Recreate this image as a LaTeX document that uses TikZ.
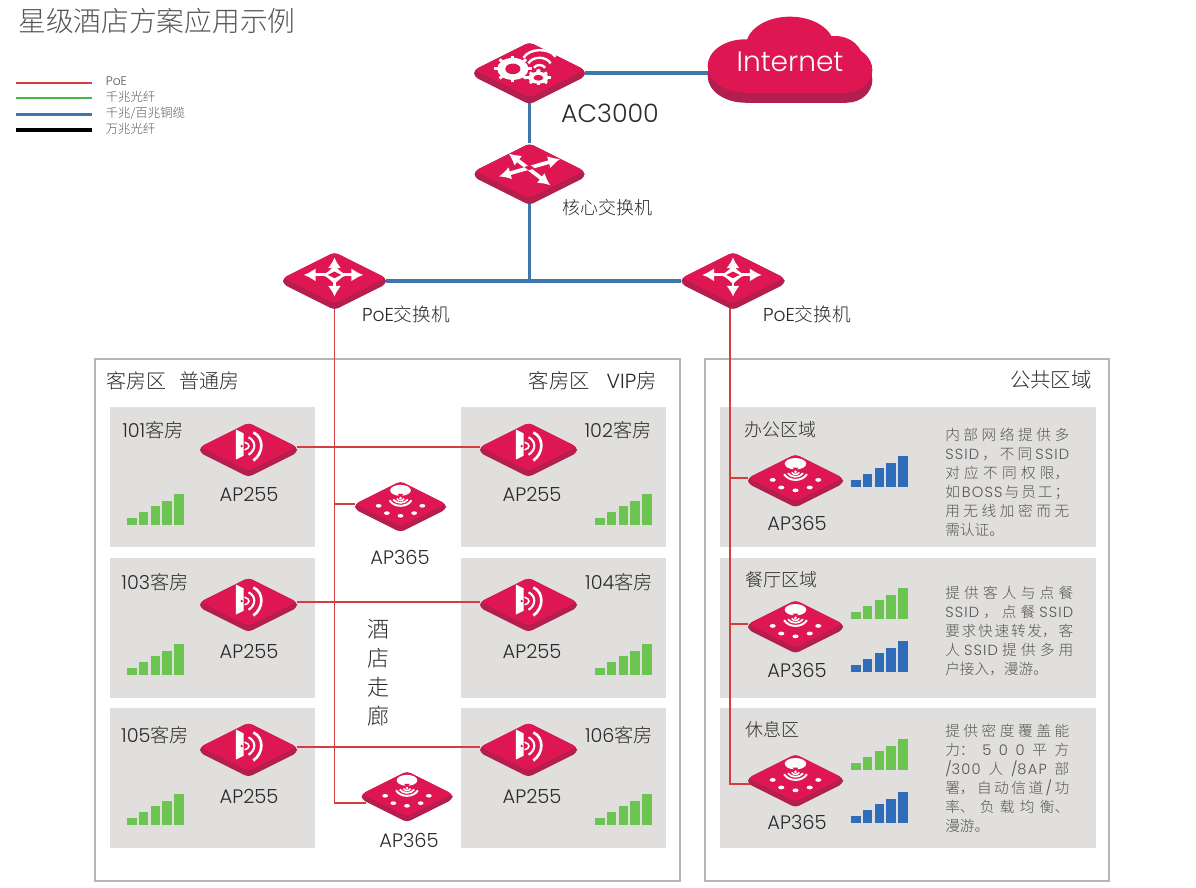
\documentclass[tikz,border=0pt]{standalone}
\usepackage{fontspec}
\setmainfont{Poppins}[UprightFont=* Light]
\newfontfamily\cjk{Noto Sans CJK SC}[UprightFont=* Light]
\newfontfamily\widelat{Poppins}[UprightFont=* Light,LetterSpace=8]
\usepackage{tikz}
\usetikzlibrary{arrows.meta}
\usetikzlibrary{backgrounds}
\usetikzlibrary{shapes.geometric}

\XeTeXlinebreaklocale "zh"
\XeTeXlinebreakskip=0pt plus 6pt

\definecolor{devred}{HTML}{DE1652}
\definecolor{devdark}{HTML}{B01F4E}
\definecolor{devmid}{HTML}{C81A4F}
\definecolor{poered}{HTML}{D33F40}
\definecolor{cablegreen}{HTML}{48B54B}
\definecolor{cableblue}{HTML}{3F76AB}
\definecolor{barsgreen}{HTML}{6CC551}
\definecolor{barsblue}{HTML}{2F6CBA}
\definecolor{roomgray}{HTML}{E0DFDD}
\definecolor{framegray}{HTML}{B5B5B5}
\definecolor{inktext}{HTML}{2A2A2A}
\definecolor{softtext}{HTML}{555555}

\newcommand{\zh}[1]{{\cjk #1}}
\newcommand{\wl}[1]{{\widelat #1}}
\newcommand{\devbody}{
	\path[fill=devdark,rounded corners=3pt] (-50,0) -- (0,-25) -- (50,0) -- (50,6) -- (0,31) -- (-50,6) -- cycle;
	\draw[devmid,line width=.5pt] (-49,3) -- (0,28) -- (49,3);
	\node[devface] (-c) {};
}
\newcommand{\sigbars}[3]{
	\foreach \i/\h in {0/7,1/13,2/19,3/24,4/31}
	\fill[#3] ({#1+\i*11.8},#2) rectangle ({#1+\i*11.8+9.6},{#2-\h});
}
\newcommand{\gearwheel}[4]{
	\foreach \a in {0,45,...,315}
	\draw[white,line width=2.2pt] (#1,#2) -- ({#1+#3*cos(\a)},{#2+#4*sin(\a)});
	\fill[white] (#1,#2) ellipse [x radius={#3*.62pt},y radius={#4*.62pt}];
	\fill[devred] (#1,#2) ellipse [x radius={#3*.3pt},y radius={#4*.3pt}];
}
\newcommand{\cloudshape}{
	\fill (790,46) ellipse [x radius=33pt,y radius=22pt];
	\fill (745,66) ellipse [x radius=28pt,y radius=20pt];
	\fill (835,60) ellipse [x radius=21pt,y radius=18pt];
	\fill (847,70) ellipse [x radius=19pt,y radius=17pt];
	\fill (745,60) rectangle (847,93);
}

\tikzset{
	devface/.style={diamond,aspect=2,fill=devred,inner sep=0pt,minimum width=75pt,minimum height=37.5pt,rounded corners=3pt,transform shape},
	lbl/.style={text=inktext,font=\fontsize{14.6}{16}\selectfont,inner sep=0pt},
	roomlbl/.style={text=inktext,font=\fontsize{14.4}{16}\selectfont,inner sep=0pt},
	zonelbl/.style={text=inktext,font=\fontsize{13.5}{16}\cjk,inner sep=0pt},
	notetxt/.style={text=softtext,font=\fontsize{11}{14.25}\selectfont,align=justify,inner sep=0pt,anchor=north west},
	poe/.style={draw=poered,line width=1.2pt},
	cable/.style={draw=cableblue,line width=2.4pt},
	pics/acbox/.style={code={
		\devbody
		\gearwheel{-15}{-1}{17}{12}
		\gearwheel{8}{7}{11}{6.5}
		\draw[white,line width=1.8pt] (-5.5,-11) .. controls (0,-20) and (18,-20) .. (23.5,-12);
		\draw[white,line width=1.8pt] (-1,-6) .. controls (3,-12.7) and (15,-12.7) .. (19,-6);
		\draw[white,line width=1.8pt] (4,-2) .. controls (6,-5.3) and (12,-5.3) .. (14,-2);
		\fill[white] (8,1) circle [radius=1.5pt];
	}},
	pics/coreswitch/.style={code={
		\devbody
		\draw[white,line width=2.8pt,{Latex[length=9pt,width=9.5pt]}-{Latex[length=9pt,width=9.5pt]}] (-28,5) -- (28,-11);
		\draw[white,line width=2.8pt,{Latex[length=9pt,width=9.5pt]}-{Latex[length=9pt,width=9.5pt]}] (-19,-16) -- (19,13);
		\fill[devred] (4.7,-2.35) -- (.9,-5.25) -- (-4.7,-3.65) -- (-.9,-.75) -- cycle;
	}},
	pics/poeswitch/.style={code={
		\devbody
		\draw[white,line width=2.2pt,{Latex[length=9pt,width=10pt]}-{Latex[length=9pt,width=10pt]}] (-30,-3) -- (28,-3);
		\draw[white,line width=2.2pt,{Latex[length=8pt,width=10pt]}-{Latex[length=8pt,width=10pt]}] (0,-20) -- (0,18);
		\fill[white] (-16,-3) .. controls (-8,-4) .. (0,-12) .. controls (8,-4) .. (16,-3) .. controls (8,-2) .. (0,6) .. controls (-8,-2) .. cycle;
		\fill[devred] (-6.5,-3) -- (0,-6.2) -- (6.5,-3) -- (0,.2) -- cycle;
	}},
	pics/apdoor/.style={code={
		\devbody
		\fill[white] (-13,-18) -- (-5,-14) -- (-5,9) -- (-13,13) -- cycle;
		\fill[devred] (-7,-1) circle [radius=1pt];
		\draw[white,line width=1.2pt] (-4,-5) .. controls (2,-3) and (2,1) .. (-4,3);
		\draw[white,line width=1.6pt] (0,-10) .. controls (8,-6) and (8,3) .. (0,8);
		\draw[white,line width=2pt] (5,-15) .. controls (16,-10) and (16,6) .. (5,14);
	}},
	pics/apdome/.style={code={
		\devbody
		\fill[white] (0,-15) ellipse [x radius=8.5pt,y radius=4.5pt];
		\fill[devred] (-3,-11) -- (3,-11) -- (0,-7) -- cycle;
		\fill[white] (0,-6.5) circle [radius=1.2pt];
		\draw[white,line width=1.1pt] (-4,-6) .. controls (-2,-3) and (2,-3) .. (4,-6);
		\draw[white,line width=1.3pt] (-8,-5) .. controls (-4,0) and (4,0) .. (8,-5);
		\draw[white,line width=1.5pt] (-12,-4) .. controls (-7,4) and (7,4) .. (12,-4);
		\foreach \dx/\dy in {-24/2,-15/10,0/13,15/10,24/2}
		\fill[white] (\dx,\dy) ellipse [x radius=2.4pt,y radius=1.5pt];
	}}
}

\begin{document}
\begin{tikzpicture}[x=.75pt,y=-.75pt]
	\useasboundingbox (0,0) rectangle (1196,888);
	
	% Title and legend
	\node[text=softtext,font=\fontsize{20.8}{24}\cjk,anchor=west,inner sep=0pt] (title) at (18,21) {星级酒店方案应用示例};
	\foreach \n/\y/\w/\c/\t in {1/83/1/poered/PoE,2/98.5/1.5/cablegreen/\zh{千兆光纤},3/114.5/2.4/cableblue/\zh{千兆/百兆铜缆},4/130/3.6/black/\zh{万兆光纤}}{
		\coordinate (lgs\n) at (16,\y);
		\coordinate (lge\n) at (92,\y);
		\draw[draw=\c,line width=\w pt] (lgs\n) -- (lge\n);
		\node[text=softtext,font=\fontsize{9.3}{10}\selectfont,anchor=west,inner sep=0pt] (lgt\n) at (105.5,{\y-1.5}) {\t};
	}
	
	% Top of the network
	\pic (ac) [scale=1.11] at (529.5,70) {acbox};
	\pic (core) [scale=1.1] at (529.5,171) {coreswitch};
	\pic (swl) [scale=1.03] at (334.5,278) {poeswitch};
	\pic (swr) [scale=1.03] at (733,278) {poeswitch};
	\begin{scope}[every path/.append style={devdark}]
		\begin{scope}[shift={(0,10)}]\cloudshape\end{scope}
	\end{scope}
	\begin{scope}[every path/.append style={devred}]
		\cloudshape
	\end{scope}
	\node[text=white,font=\fontsize{21}{24}\selectfont,inner sep=0pt] (inet) at (790,62) {Internet};
	\coordinate (inetw) at (712,73);
	\coordinate (trunkj) at (529.5,281);
	\node[lbl,font=\fontsize{19}{20}\selectfont] (aclbl) at (610,113) {AC3000};
	\node[roomlbl,font=\fontsize{13.5}{16}\cjk] (corelbl) at (607,208) {核心交换机};
	\node[roomlbl,font=\fontsize{14}{16}\selectfont] (swllbl) at (406,314) {PoE\zh{交换机}};
	\node[roomlbl,font=\fontsize{14}{16}\selectfont] (swrlbl) at (807,314) {PoE\zh{交换机}};
	
	% Area headings
	\node[roomlbl,font=\fontsize{15}{18}\cjk,anchor=west] (hda) at (106,381) {客房区\ \ \ 普通房};
	\node[roomlbl,font=\fontsize{15.3}{18}\selectfont,anchor=east] (hdb) at (657,381) {\zh{客房区}\ \ \ VIP\zh{房}};
	\node[roomlbl,font=\fontsize{15.3}{18}\cjk,anchor=east] (hdc) at (1092,380) {公共区域};
	\foreach \n/\y/\t in {1/629/酒,2/658/店,3/687/走,4/716/廊}
	\node[roomlbl,font=\fontsize{16.5}{18}\cjk] (hall\n) at (378,\y) {\t};
	
	% Guest rooms
	\foreach \n/\px/\py/\lx/\ly/\rx/\ry/\bx/\by in {101/248.5/447/249/494/153/430/127/525,102/528.5/447/532/494/618/430/595/525,103/248.5/602/249/651/155/582/127/675,104/528.5/602/532/651/619/582/595/675,105/248.5/747/249/796/155/735/127/825,106/528.5/747/532/796/619/735/595/825}{
		\pic (ap\n) [scale=.97] at (\px,\py) {apdoor};
		\node[lbl] (aplbl\n) at (\lx,\ly) {AP255};
		\node[roomlbl] (room\n) at (\rx,\ry) {\n\zh{客房}};
		\sigbars{\bx}{\by}{barsgreen}
	}
	
	% Access points of the corridor
	\pic (hallap) [scale=.91] at (400.5,504) {apdome};
	\pic (endap) [scale=.91] at (407,794) {apdome};
	\node[lbl] (halllbl) at (400,557) {AP365};
	\node[lbl] (endlbl) at (409,840) {AP365};
	\coordinate (endapw) at (366,803);
	
	% Public area
	\foreach \n/\py/\ly in {1/478/523,2/624/670,3/778/822}{
		\pic (pub\n) [scale=.95] at (795.5,\py) {apdome};
		\node[lbl] (publbl\n) at (797,\ly) {AP365};
	}
	\coordinate (pubw) at (752,784);
	\coordinate (swrb) at (730,295);
	\sigbars{851}{487}{barsblue}
	\sigbars{851}{619}{barsgreen}
	\sigbars{851}{672}{barsblue}
	\sigbars{851}{770}{barsgreen}
	\sigbars{851}{823}{barsblue}
	\node[zonelbl] (pubname1) at (780,430) {办公区域};
	\node[zonelbl] (pubname2) at (781,580) {餐厅区域};
	\node[zonelbl] (pubname3) at (772,730) {休息区};
	
	% Notes
	\node[notetxt,text width=93pt] (note1) at (945,428) {\zh{内部网络提供多}\linebreak
		\wl{SSID}\hfill\zh{，}\hfill\zh{不}\hfill\zh{同}\hfill\wl{SSID}\linebreak
		\zh{对应不同权限，}\linebreak
		\zh{如}\hfill\wl{BOSS}\hfill\zh{与}\hfill\zh{员}\hfill\zh{工}\hfill\zh{；}\linebreak
		\zh{用无线加密而无}\linebreak
		\zh{需认证。}};
	\node[notetxt,text width=96pt] (note2) at (945,586) {\zh{提供客人与点餐}\linebreak
		\wl{SSID}\hfill\zh{，}\hfill\zh{点}\hfill\zh{餐}\hfill\wl{SSID}\linebreak
		\zh{要求快速转发，客}\linebreak
		\zh{人}\hfill\wl{SSID}\hfill\zh{提}\hfill\zh{供}\hfill\zh{多}\hfill\zh{用}\linebreak
		\zh{户接入，漫游。}};
	\node[notetxt,text width=93pt] (note3) at (945,724) {\zh{提供密度覆盖能}\linebreak
		\zh{力：}\hfill 5\hfill 0\hfill 0\hfill\zh{平}\hfill\zh{方}\linebreak
		\wl{/300}\hfill\zh{人}\hfill\wl{/8AP}\hfill\zh{部}\linebreak
		\zh{署，}\hfill\zh{自}\hfill\zh{动}\hfill\zh{信}\hfill\zh{道}\hfill/\hfill\zh{功}\linebreak
		\zh{率、负载均衡、}\linebreak
		\zh{漫游。}};
	
	\begin{pgfonlayer}{background}
		% Frames and rooms
		\draw[framegray,line width=1.5pt] (95,359) rectangle (680,881);
		\draw[framegray,line width=1.5pt] (705,359) rectangle (1109,881);
		\foreach \y in {407,558,708}{
			\fill[roomgray] (110,\y) rectangle (315,{\y+140});
			\fill[roomgray] (461,\y) rectangle (666,{\y+140});
			\fill[roomgray] (720,\y) rectangle (1096,{\y+140});
		}
		% Connectors
		\draw[cable] (ac-c.east |- inetw) -- (inetw);
		\draw[cable] (ac-c.south) -- (core-c.north);
		\draw[cable] (core-c.south) -- (trunkj);
		\draw[cable] ([yshift=-2.25pt]swl-c.east) -- ([yshift=-2.25pt]swr-c.west);
		\draw[poe] (swl-c.south) |- (endapw);
		\draw[poe] (swl-c.south |- hallap-c.west) -- (hallap-c.west);
		\foreach \a/\b in {101/102,103/104,105/106}
		\draw[poe] (ap\a-c.east) -- (ap\b-c.west);
		\draw[poe] (swrb) |- (pubw);
		\draw[poe] (swrb |- pub1-c.west) -- (pub1-c.west);
		\draw[poe] (swrb |- pub2-c.west) -- (pub2-c.west);
	\end{pgfonlayer}
	
\end{tikzpicture}
\end{document}
